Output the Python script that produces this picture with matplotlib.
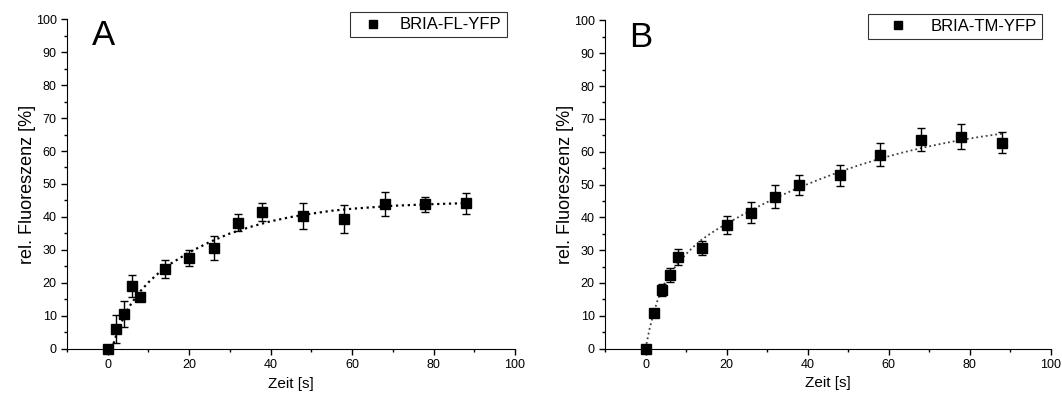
import numpy as np
import matplotlib
matplotlib.use("Agg")
import matplotlib.pyplot as plt
from matplotlib.ticker import MultipleLocator

plt.rcParams['font.family'] = ['Liberation Sans', 'DejaVu Sans']

# measured time points (s)
zeit = [0, 2, 4, 6, 8, 14, 20, 26, 32, 38, 48, 58, 68, 78, 88]

# panel A: BRIA-FL-YFP
fl_mean = [0, 6.0, 10.6, 19.0, 15.7, 24.3, 27.6, 30.5, 38.3, 41.5, 40.3, 39.4, 44.0, 43.9, 44.1]
fl_err = [0.3, 4.2, 3.9, 3.3, 0.8, 2.7, 2.5, 3.6, 2.5, 2.7, 4.0, 4.1, 3.7, 2.3, 3.3]

# panel B: BRIA-TM-YFP
tm_mean = [0, 10.7, 17.8, 22.5, 27.9, 30.6, 37.6, 41.4, 46.3, 49.8, 52.8, 59.1, 63.7, 64.5, 62.8]
tm_err = [0.3, 0.6, 1.9, 2.1, 2.5, 2.1, 2.7, 3.2, 3.4, 3.0, 3.2, 3.5, 3.6, 3.8, 3.1]

# fitted curves
fit_x_a = [1, 2, 3, 4, 5, 6, 8, 10, 12, 15, 20, 25, 30, 35, 40, 45, 50, 55, 60, 70, 80, 88]
fit_a = [0.0, 3.8, 7.0, 9.8, 12.2, 14.2, 17.5, 20.2, 22.5, 25.5, 29.3, 32.4, 35.0, 37.0,
         38.7, 40.0, 41.0, 41.9, 42.5, 43.4, 43.9, 44.2]
fit_x_b = [0, 1, 2, 3, 4, 5, 6, 8, 10, 12, 14, 16, 18, 20, 23, 26, 29, 32, 35, 38, 43,
           48, 53, 58, 63, 68, 73, 78, 83, 88]
fit_b = [0.0, 6.0, 10.8, 14.8, 18.0, 20.6, 22.7, 26.0, 28.8, 31.2, 33.3, 35.0, 36.6, 38.0,
         40.1, 42.1, 44.0, 45.8, 47.5, 49.1, 51.6, 53.9, 56.0, 57.9, 59.6, 61.1, 62.4,
         63.6, 64.6, 65.5]

fig = plt.figure(figsize=(10.62, 4.01), dpi=100)
ax_a = fig.add_axes([0.0631, 0.1297, 0.4218, 0.8229])
ax_b = fig.add_axes([0.5697, 0.1309, 0.4195, 0.8180])

panels = [
    (ax_a, fl_mean, fl_err, fit_x_a, fit_a, 'BRIA-FL-YFP', 'A', 1.6, '0.0', 2.2),
    (ax_b, tm_mean, tm_err, fit_x_b, fit_b, 'BRIA-TM-YFP', 'B', 1.3, '0.25', 3.0),
]

for ax, mean, err, fx, fy, name, letter, lw, lc, hl in panels:
    ax.plot(fx, fy, linestyle=':', color=lc, linewidth=lw, zorder=2)
    ax.errorbar(zeit, mean, yerr=err, fmt='s', color='black', ms=7, ecolor='black',
                elinewidth=1.0, capsize=3, capthick=1.0, label=name, zorder=3,
                clip_on=False)

    ax.set_xlim(-10, 100)
    ax.set_ylim(0, 100)
    ax.xaxis.set_major_locator(MultipleLocator(20))
    ax.xaxis.set_minor_locator(MultipleLocator(10))
    ax.yaxis.set_major_locator(MultipleLocator(10))
    ax.yaxis.set_minor_locator(MultipleLocator(5))
    ax.tick_params(which='major', direction='out', length=4, width=1, labelsize=9)
    ax.tick_params(which='minor', direction='out', length=2.5, width=1)
    ax.spines['top'].set_visible(False)
    ax.spines['right'].set_visible(False)
    ax.set_xlabel('Zeit [s]', fontsize=11)
    ax.set_ylabel('rel. Fluoreszenz [%]', fontsize=13, labelpad=0)

    ax.text(-4, 92, letter, fontsize=25, ha='left', va='baseline')

    # legend without the error bars, just the square marker
    h = plt.Line2D([], [], marker='s', color='black', linestyle='none', ms=6)
    leg = ax.legend([h], [name], loc='upper right', bbox_to_anchor=(1.0, 1.045),
                    frameon=True, fancybox=False, fontsize=12, handlelength=hl,
                    borderpad=0.3, handletextpad=0.5)
    leg.get_frame().set_edgecolor('black')
    leg.get_frame().set_linewidth(0.8)

fig.savefig('out.png', dpi=100)
